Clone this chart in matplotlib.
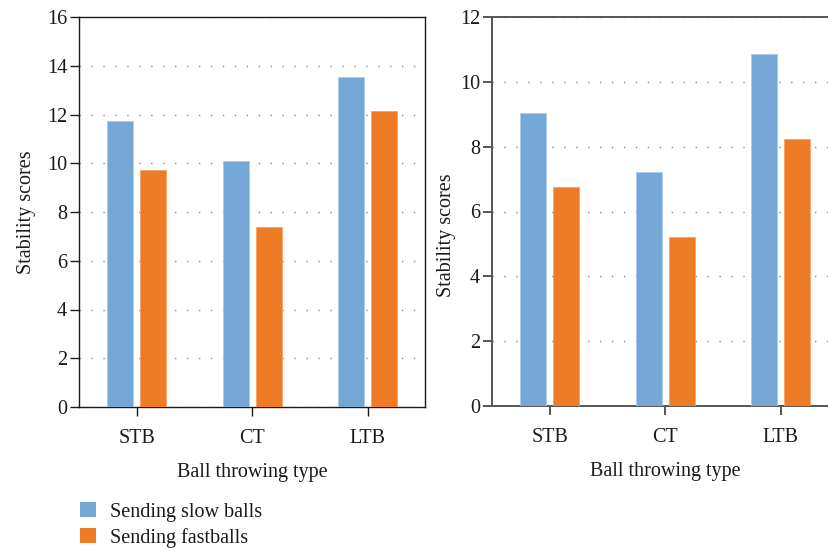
import matplotlib
matplotlib.use("Agg")
import matplotlib.pyplot as plt
import numpy as np
from matplotlib.patches import Patch

plt.rcParams['font.family'] = ['Liberation Serif', 'DejaVu Serif']

categories = ["STB", "CT", "LTB"]
series_names = ["Sending slow balls", "Sending fastballs"]
left_slow = [11.75, 10.1, 13.55]
left_fast = [9.72, 7.37, 12.15]
right_slow = [9.03, 7.22, 10.86]
right_fast = [6.77, 5.22, 8.24]
left_yticks = [0, 2, 4, 6, 8, 10, 12, 14, 16]
right_yticks = [0, 2, 4, 6, 8, 10, 12]

BLUE = "#74A6D6"
ORANGE = "#EE7B26"
FS = 14.5

fig = plt.figure(figsize=(8.29, 5.48), dpi=100)
ax1 = fig.add_axes([79 / 829, 141 / 548, 346.3 / 829, 390 / 548])
ax2 = fig.add_axes([492 / 829, 142 / 548, 346.7 / 829, 389 / 548])

x = np.arange(len(categories))
offset = 0.143
width = 0.225


def draw_panel(ax, slow, fast, yticks, spine_color, spine_lw):
    ax.bar(x - offset, slow, width, color=BLUE, edgecolor="#A9CBEA",
           linewidth=0.6, zorder=3)
    ax.bar(x + offset, fast, width, color=ORANGE, edgecolor="#F3A468",
           linewidth=0.6, zorder=3)
    ax.set_xlim(-0.5, 2.5)
    ax.set_ylim(yticks[0], yticks[-1])
    ax.set_yticks(yticks)
    ax.set_xticks(x)
    ax.set_xticklabels(categories)
    ax.yaxis.grid(True, linestyle=(0, (1, 7.6)), color="#8a8a8a",
                  linewidth=1.0, zorder=0)
    ax.set_axisbelow(True)
    for s in ax.spines.values():
        s.set_color(spine_color)
        s.set_linewidth(spine_lw)
    ax.tick_params(axis="both", direction="out", length=6.5, width=spine_lw,
                   color=spine_color, labelsize=FS, pad=2, labelcolor="#1a1a1a")
    ax.tick_params(axis="x", pad=9)
    ax.set_xlabel("Ball throwing type", fontsize=FS, color="#1a1a1a", labelpad=11)


draw_panel(ax1, left_slow, left_fast, left_yticks, "#1a1a1a", 1.0)
draw_panel(ax2, right_slow, right_fast, right_yticks, "#555555", 1.4)

ax1.set_ylabel("Stability scores", fontsize=FS, color="#1a1a1a", labelpad=8)
ax2.set_ylabel("Stability scores", fontsize=FS, color="#1a1a1a", labelpad=8)
ax2.yaxis.set_label_coords(-0.104, 0.44)

handles = [Patch(facecolor=BLUE, edgecolor="none"),
           Patch(facecolor=ORANGE, edgecolor="none")]
fig.legend(handles, series_names, loc="upper left",
           bbox_to_anchor=(72 / 829, 1 - 494 / 548), frameon=False,
           fontsize=FS, handlelength=0.8, handleheight=0.8,
           handletextpad=0.7, labelspacing=0.3, borderaxespad=0,
           labelcolor="#1a1a1a")

fig.savefig("out.png", dpi=100)
